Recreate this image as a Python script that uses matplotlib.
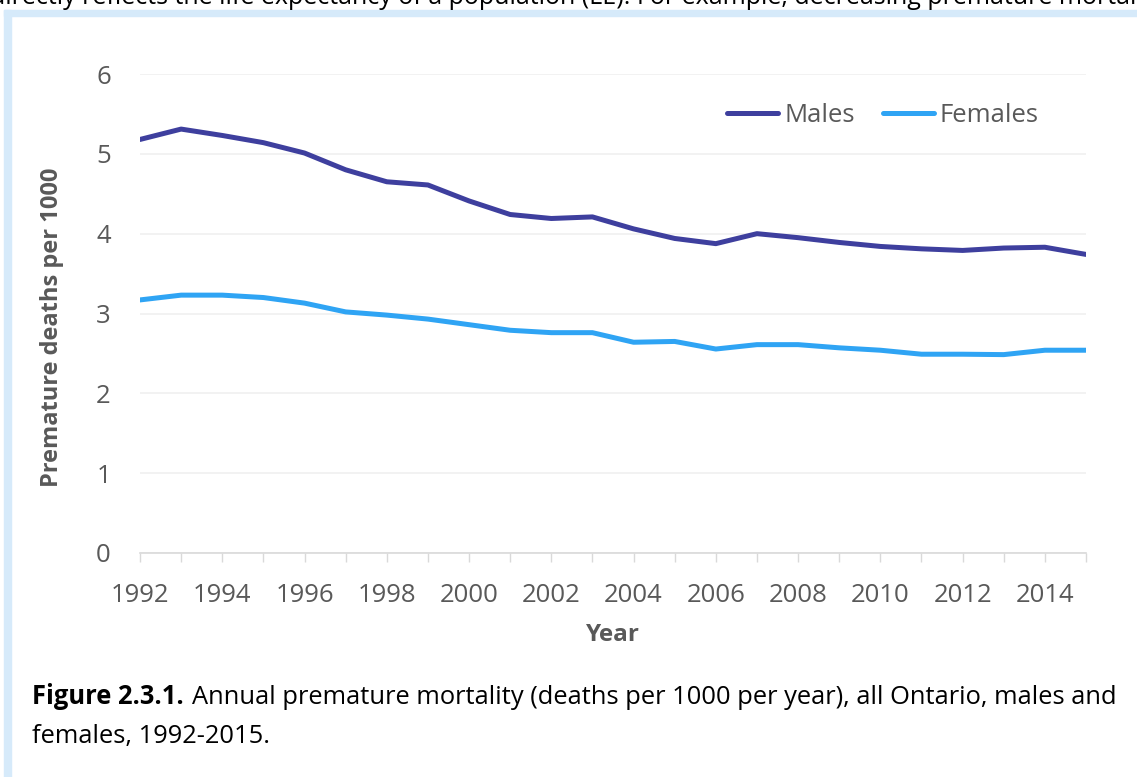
import matplotlib
matplotlib.use("Agg")
import matplotlib.pyplot as plt
from matplotlib.patches import Rectangle

plt.rcParams['font.family'] = ['Open Sans', 'DejaVu Sans']

# Daten
years = list(range(1992, 2016))
males = [5.18, 5.31, 5.23, 5.14, 5.01, 4.80, 4.65, 4.61, 4.41, 4.24, 4.19, 4.21,
         4.06, 3.94, 3.875, 4.00, 3.95, 3.89, 3.84, 3.81, 3.79, 3.82, 3.83, 3.74]
females = [3.17, 3.23, 3.23, 3.20, 3.13, 3.02, 2.98, 2.93, 2.86, 2.79, 2.76, 2.76,
           2.64, 2.65, 2.555, 2.61, 2.61, 2.57, 2.54, 2.49, 2.49, 2.485, 2.54, 2.54]
xlabels = [str(y) if y % 2 == 0 else "" for y in years]
yticks = [0, 1, 2, 3, 4, 5, 6]

W, H = 1137, 777
fig = plt.figure(figsize=(W / 100, H / 100), dpi=100)

# Rahmen (hellblau) links und oben
border = "#D6EAFA"
fig.patches.append(Rectangle((4 / W, 0), 7 / W, 1 - 10 / H, transform=fig.transFigure,
                             color=border, zorder=0))
fig.patches.append(Rectangle((4 / W, 1 - 16 / H), 1, 6 / H, transform=fig.transFigure,
                             color=border, zorder=0))

# abgeschnittener Fliesstext oben
fig.text(-10 / W, 1 - 4 / H,
         "directly reflects the life expectancy of a population (LE). For example, "
         "decreasing premature mortality",
         fontsize=18.0, color="black", va="baseline", ha="left")

ax = fig.add_axes([140 / W, 1 - 553 / H, (1086 - 140) / W, (553 - 74) / H])
ax.plot(years, males, color="#3E3F9E", lw=3.6, label="Males", solid_capstyle="round")
ax.plot(years, females, color="#2FA4F4", lw=3.6, label="Females", solid_capstyle="round")

ax.set_xlim(1992, 2015)
ax.set_ylim(0, 6)
ax.set_yticks(yticks)
ax.set_xticks(years)
ax.set_xticklabels(xlabels)
ax.grid(axis="y", color="#F0F0F0", lw=1.2)
ax.set_axisbelow(True)
for s in ["top", "right", "left"]:
    ax.spines[s].set_visible(False)
ax.spines["bottom"].set_color("#D9D9D9")
ax.spines["bottom"].set_linewidth(1.2)
ax.tick_params(axis="x", direction="out", length=6.5, width=1, color="#D9D9D9",
               labelcolor="#595959", labelsize=18.5, pad=15)
ax.tick_params(axis="y", length=0, labelcolor="#595959", labelsize=18.5, pad=21)

leg = ax.legend(loc="center left", bbox_to_anchor=(727 / W, 1 - 115 / H),
                bbox_transform=fig.transFigure, ncol=2, frameon=False,
                fontsize=18.5, handlelength=2.0, handletextpad=0.22,
                columnspacing=1.1, borderpad=0, borderaxespad=0)
for t in leg.get_texts():
    t.set_color("#595959")

fig.text(52 / W, 1 - 327.5 / H, "Premature deaths per 1000", rotation=90,
         fontsize=17, fontweight="bold", color="#595959", ha="center", va="center")
fig.text(613 / W, 1 - 635 / H, "Year", fontsize=17.5, fontweight="bold",
         color="#595959", ha="center", va="center")

# Bildunterschrift
r = fig.canvas.get_renderer()
cap = fig.text(32 / W, 1 - 704 / H, "Figure 2.3.1.", fontsize=18.4, fontweight="bold",
               color="black", va="baseline")
bb = cap.get_window_extent(r)
fig.text((bb.x1 + 8) / W, 1 - 704 / H,
         "Annual premature mortality (deaths per 1000 per year), all Ontario, males and",
         fontsize=18.4, color="black", va="baseline")
fig.text(32 / W, 1 - 743 / H, "females, 1992-2015.", fontsize=18.4, color="black",
         va="baseline")

fig.savefig("out.png", dpi=100)
